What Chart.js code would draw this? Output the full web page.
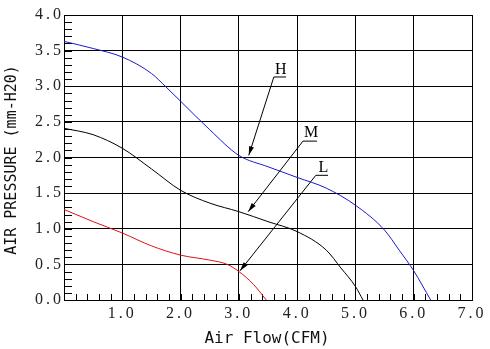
<!DOCTYPE html>
<html><head><meta charset="utf-8">
<script src="https://cdn.jsdelivr.net/npm/chart.js@4.4.1/dist/chart.umd.min.js"></script>
<style>html,body{margin:0;padding:0;background:#fff;} canvas{display:block;}</style>
</head><body>
<canvas id="c" width="490" height="349"></canvas>
<script>
// ---- data ----
const xTickLabels = ['', '1.0', '2.0', '3.0', '4.0', '5.0', '6.0', '7.0'];
const yTickLabels = ['0.0', '0.5', '1.0', '1.5', '2.0', '2.5', '3.0', '3.5', '4.0'];

const hFlow     = [0, 0.5, 1.0, 1.5, 1.75, 2.0, 2.5, 3.0, 3.5, 4.0, 4.5, 5.0, 5.5, 5.75, 6.0, 6.29];
const hPressure = [3.63, 3.53, 3.41, 3.18, 2.99, 2.79, 2.39, 2.03, 1.87, 1.72, 1.57, 1.33, 0.98, 0.70, 0.41, 0];

const mFlow     = [0, 0.5, 1.0, 1.5, 2.0, 2.5, 3.0, 3.5, 4.0, 4.5, 4.75, 5.0, 5.13];
const mPressure = [2.41, 2.32, 2.13, 1.84, 1.54, 1.36, 1.24, 1.10, 0.96, 0.70, 0.45, 0.19, 0];

const lFlow     = [0, 0.5, 1.0, 1.5, 2.0, 2.5, 2.8, 3.0, 3.25, 3.47];
const lPressure = [1.27, 1.10, 0.94, 0.76, 0.63, 0.56, 0.50, 0.40, 0.22, 0];

const curveNames = ['H', 'M', 'L'];
// ---------------

const toPts = (xs, ys) => xs.map((x, i) => ({x, y: ys[i]}));

// annotation leader lines (data units): label anchor, underline end, arrow tip
const callouts = [
  {text: curveNames[0], lx: 3.72, ly: 3.23, ux0: 3.60, ux1: 3.81, uy: 3.13, tx: 3.17, ty: 2.03},
  {text: curveNames[1], lx: 4.24, ly: 2.34, ux0: 4.10, ux1: 4.34, uy: 2.23, tx: 3.16, ty: 1.24},
  {text: curveNames[2], lx: 4.45, ly: 1.85, ux0: 4.32, ux1: 4.53, uy: 1.75, tx: 3.02, ty: 0.41}
];

const extras = {
  id: 'extras',
  beforeDraw(chart) { chart.ctx.letterSpacing = '3px'; },
  beforeDatasetsDraw(chart) {
    const ctx = chart.ctx;
    ctx.letterSpacing = '0px';
    const xs = chart.scales.x, ys = chart.scales.y, a = chart.chartArea;
    ctx.save();
    ctx.strokeStyle = '#000';
    ctx.lineWidth = 1;
    ctx.beginPath();
    for (let k = 1; k < 40; k++) {
      const py = Math.round(ys.getPixelForValue(k / 10)) + 0.5;
      ctx.moveTo(a.left, py); ctx.lineTo(a.left + 8, py);
    }
    for (let k = 1; k < 35; k++) {
      const px = Math.round(xs.getPixelForValue(k / 5)) + 0.5;
      ctx.moveTo(px, a.bottom); ctx.lineTo(px, a.bottom - 6);
    }
    ctx.stroke();
    ctx.restore();
  },
  afterDraw(chart) {
    const ctx = chart.ctx;
    ctx.letterSpacing = '0px';
    const xs = chart.scales.x, ys = chart.scales.y;
    ctx.save();
    // axis titles
    ctx.fillStyle = '#111';
    ctx.font = '16px "DejaVu Sans Mono"';
    ctx.textAlign = 'center';
    ctx.textBaseline = 'middle';
    ctx.fillText('Air Flow(CFM)', 267, 339);
    ctx.save();
    ctx.translate(12, 160);
    ctx.rotate(-Math.PI / 2);
    ctx.font = '15px "DejaVu Sans Mono"';
    ctx.fillText('AIR PRESSURE (mm-H20)', 0, 0);
    ctx.restore();
    // callouts
    ctx.strokeStyle = '#000';
    ctx.fillStyle = '#000';
    ctx.lineWidth = 1;
    ctx.font = '16px "Liberation Serif"';
    for (const c of callouts) {
      const lx = xs.getPixelForValue(c.lx), ly = ys.getPixelForValue(c.ly);
      const u0 = xs.getPixelForValue(c.ux0), u1 = xs.getPixelForValue(c.ux1), uy = ys.getPixelForValue(c.uy);
      const tx = xs.getPixelForValue(c.tx), ty = ys.getPixelForValue(c.ty);
      ctx.fillText(c.text, lx, ly);
      ctx.beginPath();
      ctx.moveTo(u1, uy); ctx.lineTo(u0, uy); ctx.lineTo(tx, ty);
      ctx.stroke();
      const ang = Math.atan2(ty - uy, tx - u0);
      const L = 9, W = 2.5;
      const bx = tx - L * Math.cos(ang), by = ty - L * Math.sin(ang);
      ctx.beginPath();
      ctx.moveTo(tx, ty);
      ctx.lineTo(bx + W * Math.sin(ang), by - W * Math.cos(ang));
      ctx.lineTo(bx - W * Math.sin(ang), by + W * Math.cos(ang));
      ctx.closePath();
      ctx.fill();
    }
    ctx.restore();
  }
};

const lineDs = (label, pts, color) => ({
  label, data: pts, showLine: true, borderColor: color, borderWidth: 1,
  pointRadius: 0, cubicInterpolationMode: 'monotone', fill: false
});

new Chart(document.getElementById('c'), {
  type: 'scatter',
  data: {
    datasets: [
      lineDs(curveNames[0], toPts(hFlow, hPressure), '#1a1acc'),
      lineDs(curveNames[1], toPts(mFlow, mPressure), '#000000'),
      lineDs(curveNames[2], toPts(lFlow, lPressure), '#e0101a')
    ]
  },
  options: {
    responsive: false,
    animation: false,
    events: [],
    layout: {padding: {top: 15, right: 18, left: 0, bottom: 0}},
    plugins: {legend: {display: false}, tooltip: {enabled: false}},
    scales: {
      x: {
        type: 'linear', min: 0, max: 7,
        afterFit: s => { s.height = 49; },
        grid: {color: '#000', lineWidth: 1, drawTicks: false},
        border: {color: '#000', width: 1},
        ticks: {
          stepSize: 1, autoSkip: false, maxRotation: 0, padding: 4,
          color: '#222', font: {family: 'Liberation Serif', size: 16},
          callback: (v, i) => xTickLabels[i]
        }
      },
      y: {
        type: 'linear', min: 0, max: 4,
        afterFit: s => { s.width = 64; },
        grid: {color: '#000', lineWidth: 1, drawTicks: false},
        border: {color: '#000', width: 1},
        ticks: {
          stepSize: 0.5, autoSkip: false, padding: 0,
          color: '#222', font: {family: 'Liberation Serif', size: 16},
          callback: (v, i) => yTickLabels[i]
        }
      }
    }
  },
  plugins: [extras]
});
</script>
</body></html>
